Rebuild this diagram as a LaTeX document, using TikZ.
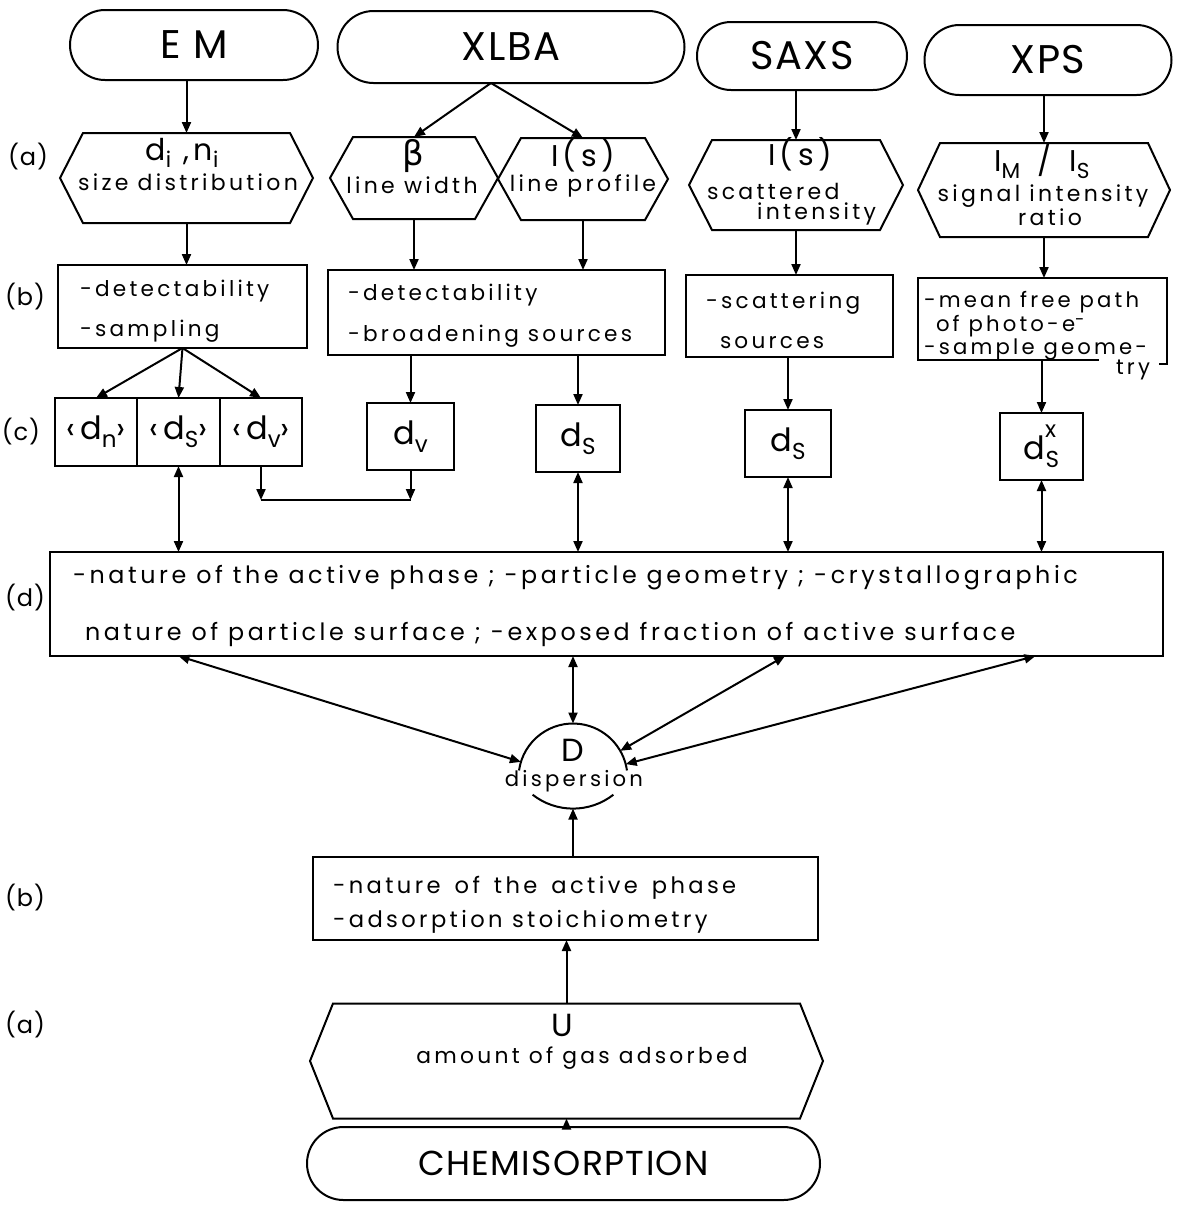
\documentclass[tikz,border=0pt]{standalone}
\usepackage{graphicx}
\usepackage{fontspec}
\setmainfont[LetterSpace=15]{Poppins}
\newfontfamily\capf[LetterSpace=4]{Poppins}
\newfontfamily\grk{DejaVu Sans}
\usetikzlibrary{arrows.meta,shapes.misc,calc}
\newcommand\mysub[1]{\raisebox{-0.45ex}{\scalebox{0.72}{#1}}}
\newcommand\mysubsup[2]{\raisebox{-0.45ex}{\scalebox{0.72}{#1}}\llap{\raisebox{1.25ex}{\scalebox{0.72}{#2}}\hspace{1.5pt}}}
\newcommand\wsp{\hspace{7pt}}
\newcommand\drawhex[2]{\draw[ln] (#1.north west) -- (#1.north east) -- ([xshift=#2]#1.east) -- (#1.south east) -- (#1.south west) -- ([xshift=-#2]#1.west) -- cycle;}
\begin{document}
\begin{tikzpicture}[x=0.5pt,y=-0.5pt,
  every node/.style={inner sep=0pt, outer sep=0pt},
  ln/.style={line width=1pt},
  arr/.style={ln,-{Triangle[length=5.5pt,width=4.5pt]}},
  darr/.style={ln,{Triangle[length=5.5pt,width=4.5pt]}-{Triangle[length=5.5pt,width=4.5pt]}},
  term/.style={rounded rectangle, draw, ln, font=\capf\fontsize{20}{22}\selectfont},
  hexin/.style={rectangle},
  boxn/.style={rectangle, draw, ln},
  sym/.style={font=\fontsize{15}{16}\selectfont},
  sml/.style={font=\fontsize{11}{12}\selectfont},
  txt/.style={align=left, font=\fontsize{10.8}{20}\selectfont},
  cell/.style={boxn, font=\fontsize{16}{17}\selectfont},
  lab/.style={font=\capf\fontsize{12}{13}\selectfont}]

\fill[white] (0,0) rectangle (1180,1207);
\useasboundingbox (0,0) rectangle (1180,1207);

% top terminators
\node[term, minimum width=124pt, minimum height=35pt] (EM) at (194,45) {E M};
\node[term, minimum width=173.5pt, minimum height=36pt] (XLBA) at (511,47) {XLBA};
\node[term, minimum width=105pt, minimum height=34pt] (SAXS) at (802,56) {SAXS};
\node[term, minimum width=123.5pt, minimum height=35pt] (XPS) at (1048,60) {XPS};

% row (a) hexagons
\node[hexin, minimum width=103.5pt, minimum height=45pt] (hEM) at (186.5,178) {};
\node[hexin, minimum width=61pt, minimum height=41pt] (hB) at (414,178) {};
\node[hexin, minimum width=62pt, minimum height=41pt] (hI) at (583,179) {};
\node[hexin, minimum width=84pt, minimum height=45pt] (hS) at (796,185) {};
\node[hexin, minimum width=104pt, minimum height=47pt] (hP) at (1044,190) {};
\drawhex{hEM}{11.5pt}
\drawhex{hB}{11.5pt}
\drawhex{hI}{11.5pt}
\drawhex{hS}{11.5pt}
\drawhex{hP}{11pt}
\node[sym] (hEMa) at (182,153) {d\mysub{i} ,n\mysub{i}};
\node[sml] (hEMb) at (188,182) {size distribution};
\node[font=\grk\fontsize{17}{18}\selectfont] (hBa) at (413,156) {β};
\node[sml] (hBb) at (412,185) {line width};
\node[sym] (hIa) at (583,155) {I(s)};
\node[sml] (hIb) at (583,186) {line profile};
\node[sym] (hSa) at (800,154) {I(s)};
\node[sml, anchor=west] (hSb) at (707,191) {scattered};
\node[sml, anchor=east] (hSc) at (876,214) {intensity};
\node[sym] (hPa) at (1042,161) {I\mysub{M}\, /\, I\mysub{S}};
\node[sml] (hPb) at (1043,196) {signal intensity};
\node[sml] (hPc) at (1050,217) {ratio};

% row (b) boxes
\node[boxn, minimum width=124.5pt, minimum height=41.5pt] (bEM) at (182.5,306.5) {};
\node[txt, anchor=west] (bEMt) at (80,311) {-detectability\\-sampling};
\node[boxn, minimum width=168.5pt, minimum height=42.5pt] (bX) at (496.5,312.5) {};
\node[txt, anchor=west, font=\fontsize{10.8}{20.5}\selectfont] (bXt) at (348,316) {-detectability\\-broadening sources};
\node[boxn, minimum width=103.5pt, minimum height=41pt] (bS) at (789.5,316) {};
\node[txt, anchor=west] (bSt) at (706,320) {-scattering\\\hspace*{7pt}sources};
\node[rectangle, minimum width=124.5pt, minimum height=41pt] (bP) at (1042.5,319) {};
\draw[ln] (1099,360) -- (bP.south west) -- (bP.north west) -- (bP.north east) -- ++(0,86) -- ++(-8,0);
\node[align=left, anchor=west, font=\fontsize{10.6}{10}\selectfont] (bPt) at (924,326)
  {-mean free path\\\hspace*{6pt}of photo-e\raisebox{0.55ex}{\scalebox{0.8}{-}}\\-sample geome-};
\node[anchor=east, font=\fontsize{10.6}{12}\selectfont] (bPtry) at (1150,370) {try};

% row (c)
\node[cell, minimum width=41pt, minimum height=34pt] (c1) at (96,432) {‹d\mysub{n}›};
\node[cell, minimum width=41.5pt, minimum height=34pt] (c2) at (178.5,432) {‹d\mysub{S}›};
\node[cell, minimum width=41pt, minimum height=34pt] (c3) at (261,432) {‹d\mysub{v}›};
\node[cell, minimum width=43.5pt, minimum height=33.5pt] (cXv) at (410.5,436.5) {d\mysub{v}};
\node[cell, minimum width=42pt, minimum height=33.5pt] (cXs) at (578,438.5) {d\mysub{S}};
\node[cell, minimum width=43pt, minimum height=33.5pt] (cS) at (788,443.5) {d\mysub{S}};
\node[cell, minimum width=41.5pt, minimum height=33.5pt] (cP) at (1041.5,446.5) {d\mysubsup{S}{x}};

% row (d)
\node[boxn, minimum width=556.5pt, minimum height=52pt] (dbox) at (606.5,604) {};
\node[anchor=west, font=\fontsize{11.9}{13}\selectfont] (dt1) at (73,578)
  {-nature of the active phase ; -particle geometry ; -crystallographic};
\node[anchor=west, font=\fontsize{11.9}{13}\selectfont] (dt2) at (85,634)
  {nature of particle surface ; -exposed fraction of active surface};

% dispersion
\node[circle, minimum size=54.5pt] (D) at (573,778) {};
\draw[ln] (D.172) arc[start angle=172, end angle=8, radius=27.25pt];
\draw[ln] ([shift={(232:32.8pt)}]573,743) arc[start angle=232, end angle=308, radius=32.8pt];
\coordinate (Dbot) at (573,808.6);
\node[font=\capf\fontsize{16}{17}\selectfont] (Dl) at (573,750) {D};
\node[font=\fontsize{10.6}{12}\selectfont] (Dt) at (574,781) {dispersion};

% lower part
\node[boxn, minimum width=252.5pt, minimum height=41.5pt] (lb) at (565.5,898.5) {};
\node[align=left, anchor=west, font=\fontsize{11.3}{17}\selectfont] (lbt) at (333,905)
  {-nature\wsp of\wsp the\wsp active\wsp phase\\-adsorption stoichiometry};
\node[rectangle, minimum width=233.5pt, minimum height=57.5pt] (U) at (566.5,1061) {};
\drawhex{U}{11.5pt}
\node[font=\capf\fontsize{16}{17}\selectfont] (Ul) at (562,1025) {U};
\node[font=\fontsize{10.9}{12}\selectfont] (Ut) at (582,1058) {amount of gas adsorbed};
\node[rounded rectangle, draw, ln, minimum width=256.5pt, minimum height=36.5pt, font=\capf\fontsize{17.3}{19}\selectfont] (chem) at (563.5,1163.5) {CHEMISORPTION};

% labels
\node[lab] (la1) at (28,157) {(a)};
\node[lab] (lb1) at (25,297) {(b)};
\node[lab] (lc1) at (21,432) {(c)};
\node[lab] (ld1) at (25,598) {(d)};
\node[lab] (lb2) at (25,898) {(b)};
\node[lab] (la2) at (25,1025) {(a)};

% connectors top -> (a)
\draw[arr] (hEM.north |- EM.south) -- (hEM.north);
\coordinate (xsplit) at ([xshift=-10pt]XLBA.south);
\draw[arr] (xsplit) -- (hB.north);
\draw[arr] (xsplit) -- (hI.north);
\draw[arr] (hS.north |- SAXS.south) -- (hS.north);
\draw[arr] (hP.north |- XPS.south) -- (hP.north);

% (a) -> (b)
\draw[arr] (hEM.south) -- (hEM.south |- bEM.north);
\draw[arr] (hB.south) -- (hB.south |- bX.north);
\draw[arr] (hI.south) -- (hI.south |- bX.north);
\draw[arr] (hS.south) -- (hS.south |- bS.north);
\draw[arr] (hP.south) -- (hP.south |- bP.north);

% (b) -> (c)
\coordinate (emsplit) at (bEM.south);
\draw[arr] (emsplit) -- (c1.north);
\draw[arr] (emsplit) -- (c2.north);
\draw[arr] (emsplit) -- (c3.north);
\draw[arr] (cXv.north |- bX.south) -- (cXv.north);
\draw[arr] (cXs.north |- bX.south) -- (cXs.north);
\draw[arr] (cS.north |- bS.south) -- (cS.north);
\draw[arr] (cP.north |- bP.south) -- (cP.north);

% <d_v> and d_v comparison bar
\coordinate (bar1) at (c3.south |- 0,500);
\coordinate (bar2) at (cXv.south |- 0,500);
\draw[arr] (c3.south) -- (bar1);
\draw[arr] (cXv.south) -- (bar2);
\draw[ln] (bar1) -- (bar2);

% (c) <-> (d)
\draw[darr] (c2.south) -- (c2.south |- dbox.north);
\draw[darr] (cXs.south) -- (cXs.south |- dbox.north);
\draw[darr] (cS.south) -- (cS.south |- dbox.north);
\draw[darr] (cP.south) -- (cP.south |- dbox.north);

% (d) <-> D
\draw[darr] (c2.south |- dbox.south) -- (D);
\draw[darr] (D.north |- dbox.south) -- (D.north);
\draw[darr] ([xshift=-1.5pt]cS.south |- dbox.south) -- (D);
\draw[darr] ([xshift=-3pt]cP.south |- dbox.south) -- (D);

% lower chain
\draw[arr] (Dbot |- lb.north) -- (Dbot);
\draw[arr] (U.north) -- (U.north |- lb.south);
\draw[arr] (U.south |- chem.north) -- (U.south);
\end{tikzpicture}
\end{document}
